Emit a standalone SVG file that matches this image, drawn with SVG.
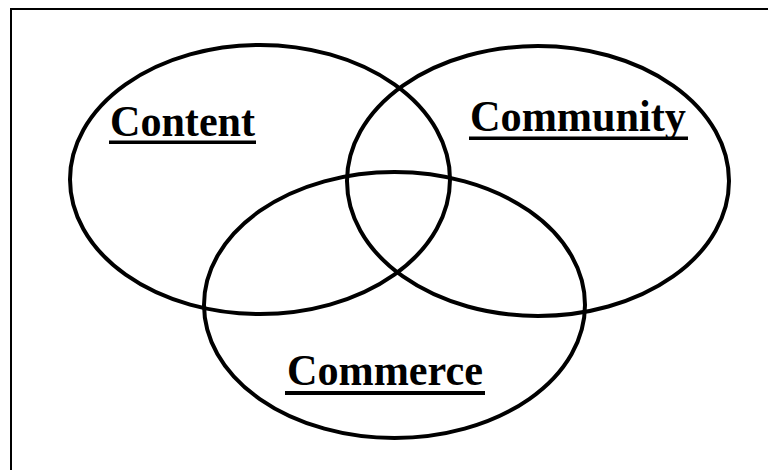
<svg xmlns="http://www.w3.org/2000/svg" width="768" height="470" viewBox="0 0 768 470">
<style>
.ring{fill:none;stroke:#000;stroke-width:4}
.lbl{font-family:"Liberation Serif","Times New Roman",serif;font-weight:bold;font-size:45px;fill:#000}
.ul{fill:#000}
</style>
<rect x="0" y="0" width="768" height="470" fill="#fff"/>
<rect x="11" y="9" width="800" height="520" fill="none" stroke="#000" stroke-width="2"/>
<g id="content">
<ellipse class="ring" cx="260" cy="179.5" rx="190" ry="134.5"/>
<text class="lbl" x="110" y="136" textLength="145" lengthAdjust="spacingAndGlyphs">Content</text>
<rect class="ul" x="109" y="140.5" width="147" height="3.5"/>
</g>
<g id="community">
<ellipse class="ring" cx="538" cy="181" rx="191" ry="135"/>
<text class="lbl" x="470" y="131" textLength="216" lengthAdjust="spacingAndGlyphs">Community</text>
<rect class="ul" x="469" y="136.5" width="219" height="3.5"/>
</g>
<g id="commerce">
<ellipse class="ring" cx="394.5" cy="305" rx="190.5" ry="133"/>
<text class="lbl" x="287" y="385" textLength="196" lengthAdjust="spacingAndGlyphs">Commerce</text>
<rect class="ul" x="285" y="391" width="200" height="4"/>
</g>
<g id="connectors"></g>
</svg>
